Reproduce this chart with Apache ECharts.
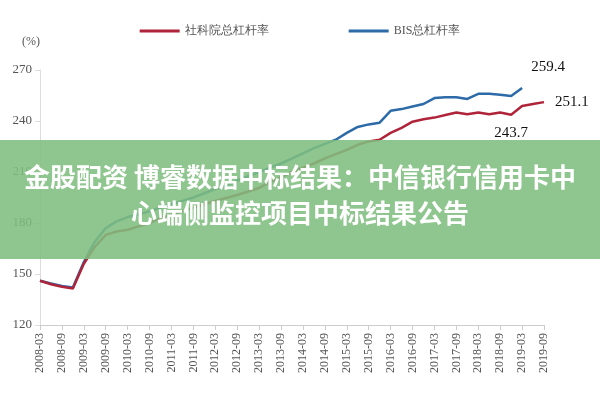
<!DOCTYPE html>
<html><head><meta charset="utf-8">
<script src="https://cdn.jsdelivr.net/npm/echarts@6/dist/echarts.min.js"></script>
<style>html,body{margin:0;padding:0;background:#fff}#c{width:600px;height:400px}</style>
</head><body><div id="c"></div>
<script>
const categories = [];
for (let y = 2008; y <= 2019; y++) for (const m of ['03','06','09','12']) { if (y===2019 && m==='12') continue; categories.push(y+'-'+m); }
const cassValues = [146,144,142.5,141.5,156,166,173,175,176,178,180,183,185,187,189,191,193,194.7,196.5,198.5,200.6,204,207,210,212.5,215,218,220.5,223,226,228,229,233,236,239.6,241,242,243.5,245,244,245,244,245,243.7,248.8,250,251.1];
const bisValues = [146,144.5,143,142,157,169,177,181,183.5,185,187,189,191,193,195,197.5,200,202,205,207.5,210,212.5,215,218,221,224,226.5,229,233,236.5,238,239,246,247,248.5,250,253.5,254,254,253,256,256,255.5,254.7,259.4,null,null];
const yTicks = [120,150,180,210,240,270];
const seriesNames = ['社科院总杠杆率','BIS总杠杆率'];
const cassLabels = {43:{pos:'bottom',dx:0,dy:6}, 46:{pos:'right',dx:6,dy:0}};
const bisLabels = {44:{pos:'top',dx:26,dy:-8}};

function mk(vals, labs){
  return vals.map((v,i)=> labs[i] ? {value:v, label:{show:true, position:labs[i].pos, offset:[labs[i].dx,labs[i].dy], formatter:String(v), color:'#111', fontSize:15, fontFamily:'Liberation Serif'}} : v);
}
const chart = echarts.init(document.getElementById('c'));
chart.setOption({
  animation:false,
  legend:{top:20, left:'center', itemGap:80, itemWidth:40, itemHeight:3, icon:'rect',
    textStyle:{fontFamily:'Liberation Serif', fontSize:12, color:'#555'}},
  grid:{left:40, right:56, top:70, bottom:75},
  xAxis:{type:'category', data:categories, boundaryGap:false,
    axisLine:{lineStyle:{color:'#ccc'}}, axisTick:{interval:1, lineStyle:{color:'#ccc'}},
    axisLabel:{interval:1, rotate:90, fontFamily:'Liberation Serif', fontSize:12, color:'#555'}},
  yAxis:{type:'value', min:120, max:270, interval:30, name:'(%)', nameLocation:'end', nameGap:22,
    nameTextStyle:{fontFamily:'Liberation Serif', fontSize:12, color:'#555', align:'right'},
    axisLine:{show:true, lineStyle:{color:'#ddd'}}, axisTick:{show:true, lineStyle:{color:'#ddd'}},
    splitLine:{show:false},
    axisLabel:{fontFamily:'Liberation Serif', fontSize:13, color:'#555', formatter:v=>yTicks.includes(v)?String(v):''}},
  series:[
    {name:seriesNames[0], type:'line', data:mk(cassValues,cassLabels), symbol:'circle', symbolSize:0, showSymbol:true, lineStyle:{color:'#b0243a', width:2.5}, itemStyle:{color:'#b0243a'}, z:3},
    {name:seriesNames[1], type:'line', data:mk(bisValues,bisLabels), symbol:'circle', symbolSize:0, showSymbol:true, lineStyle:{color:'#2c6aa8', width:2.5}, itemStyle:{color:'#2c6aa8'}, z:2}
  ],
  graphic:[
    {type:'rect', left:0, top:140, shape:{width:600, height:119}, style:{fill:'rgba(128,190,128,0.88)'}, z:100},
    {type:'text', left:'center', top:164, style:{text:'金股配资 博睿数据中标结果：中信银行信用卡中', fill:'#fff', font:'bold 26px "Noto Sans CJK SC"'}, z:101},
    {type:'text', left:'center', top:200, style:{text:'心端侧监控项目中标结果公告', fill:'#fff', font:'bold 26px "Noto Sans CJK SC"'}, z:101}
  ]
});
</script></body></html>
